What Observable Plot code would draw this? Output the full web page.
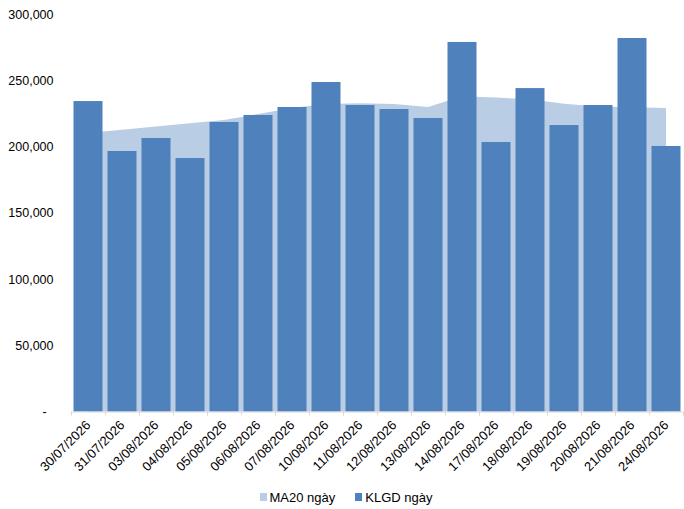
<!DOCTYPE html>
<html>
<head>
<meta charset="utf-8">
<script src="https://cdn.jsdelivr.net/npm/d3@7"></script>
<script src="https://cdn.jsdelivr.net/npm/@observablehq/plot@0.6"></script>
<style>
  html, body { margin: 0; padding: 0; background: #fff; }
  body { width: 684px; height: 509px; overflow: hidden; font-family: "Liberation Sans", Arial, sans-serif; }
  #legend { display: flex; justify-content: center; align-items: center; height: 24px; padding-top: 5px; font-size: 13px; color: #000; padding-left: 8px; }
  .item { display: flex; align-items: center; margin: 0 10px; }
  .sw { width: 7px; height: 8px; margin-right: 3px; }
</style>
</head>
<body>
<div id="chart"></div>
<div id="legend"></div>
<script>
const dates = ["30/07/2026","31/07/2026","03/08/2026","04/08/2026","05/08/2026","06/08/2026","07/08/2026","10/08/2026","11/08/2026","12/08/2026","13/08/2026","14/08/2026","17/08/2026","18/08/2026","19/08/2026","20/08/2026","21/08/2026","24/08/2026"];
const klgd = [234300,196600,206400,191300,218500,223800,229800,248700,231300,228300,221500,278900,203400,244100,216200,231300,281900,200400];
const ma20 = [210100,212600,215100,217600,220000,224500,229100,232100,232600,232100,229800,237900,236900,235700,232200,230200,229700,229100];
const yTicks = [0,50000,100000,150000,200000,250000,300000];
const seriesNames = ["MA20 ngày","KLGD ngày"];
const colors = ["#B9CDE5","#4F81BD"];

const rows = dates.map((d,i) => ({date: d, klgd: klgd[i], ma20: ma20[i]}));
const fmt = d3.format(",");

const chart = Plot.plot({
  width: 684,
  height: 480,
  marginLeft: 71,
  marginRight: 1,
  marginTop: 14,
  marginBottom: 68.5,
  style: {fontFamily: '"Liberation Sans", Arial, sans-serif', fontSize: "12.5px", color: "#000", background: "#fff"},
  x: {type: "band", domain: dates, padding: 0, label: null},
  y: {domain: [0, 300000], label: null},
  marks: [
    Plot.areaY(rows, {x: "date", y: "ma20", fill: colors[0]}),
    Plot.barY(rows, {x: "date", y: "klgd", fill: colors[1], insetLeft: 2.5, insetRight: 2.5}),
    Plot.ruleY([0], {stroke: "#D9D9D9"}),
    Plot.axisX(dates, {tickSize: 4, tickFormat: () => "", dx: -17, stroke: "#D9D9D9"}),
    Plot.axisX([dates[dates.length-1]], {tickSize: 4, tickFormat: () => "", dx: 17, stroke: "#D9D9D9"}),
    Plot.axisX(dates, {tickSize: 0, tickRotate: -45, tickPadding: 11, fontSize: "13px"}),
    Plot.axisY(yTicks, {tickSize: 0, tickPadding: 18, tickFormat: d => d === 0 ? "-\u00a0\u00a0" : fmt(d), fontSize: "12.5px"})
  ]
});
document.getElementById("chart").appendChild(chart);

const legend = document.getElementById("legend");
seriesNames.forEach((n,i) => {
  const it = document.createElement("div");
  it.className = "item";
  const sw = document.createElement("div");
  sw.className = "sw";
  sw.style.background = colors[i];
  const t = document.createElement("span");
  t.textContent = n;
  it.appendChild(sw); it.appendChild(t);
  legend.appendChild(it);
});
</script>
</body>
</html>
